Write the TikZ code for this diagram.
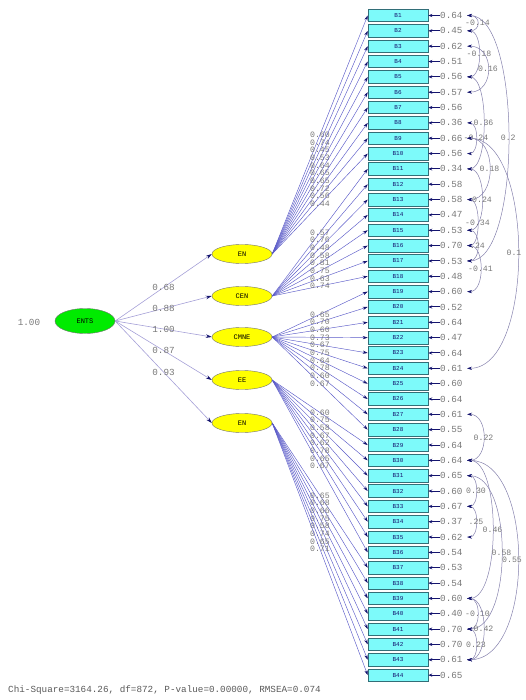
\documentclass[tikz,border=0pt]{standalone}
\usepackage{fontspec}
\setmonofont{Liberation Mono}
\usetikzlibrary{shapes.geometric,arrows.meta}
\definecolor{boxcyan}{RGB}{125,250,250}
\definecolor{boxedge}{RGB}{50,110,120}
\definecolor{pathblue}{RGB}{90,90,200}
\definecolor{softpath}{RGB}{165,160,215}
\definecolor{headnavy}{RGB}{20,20,110}
\definecolor{numgray}{RGB}{120,120,120}
\definecolor{ellyellow}{RGB}{255,255,0}
\definecolor{ellgreen}{RGB}{0,235,0}
\tikzset{
  indicator/.style={draw=boxedge, line width=0.6pt, fill=boxcyan, minimum width=60pt,
    minimum height=12.5pt, inner sep=0pt, text=headnavy,
    font=\ttfamily\fontsize{6}{6}\selectfont},
  factor/.style={ellipse, draw=black!55, fill=ellyellow, minimum width=60pt,
    minimum height=19pt, inner sep=0pt, font=\ttfamily\fontsize{7}{7}\selectfont},
  general/.style={ellipse, draw=black!55, fill=ellgreen, minimum width=60pt,
    minimum height=25pt, inner sep=0pt, font=\ttfamily\fontsize{7}{7}\selectfont},
  num/.style={font=\ttfamily\fontsize{9.3}{9.3}\selectfont, text=numgray, inner sep=0pt},
  small num/.style={font=\ttfamily\fontsize{8.2}{8.2}\selectfont, text=numgray, inner sep=0pt},
  loading/.style={draw=pathblue, line width=0.45pt,
    -{Stealth[length=5pt,width=3.2pt,color=headnavy]}},
  gamma/.style={draw=softpath, line width=0.6pt,
    -{Stealth[length=6pt,width=3.6pt,color=headnavy]}},
  errarrow/.style={draw=headnavy, line width=1pt,
    -{Stealth[length=4pt,width=3.2pt]}},
  cov/.style={draw=softpath!80!black, line width=0.5pt,
    {Stealth[length=5pt,width=3.2pt,color=headnavy]}-{Stealth[length=5pt,width=3.2pt,color=headnavy]}}
}
\begin{document}
\begin{tikzpicture}[x=1pt,y=-1pt]
\useasboundingbox (0,0) rectangle (525,700);

% observed indicators
\foreach \k in {1,...,44}{
  \node[indicator] (b\k) at (398,{15.5+(\k-1)*15.34}) {B\k};
}

% second-order factor and first-order factors
\node[general] (g) at (85,321) {ENTS};
\node[num] (gv) at (29,322) {1.00};
\node[factor] (f1) at (242,254) {EN};
\node[factor] (f2) at (242,296) {CEN};
\node[factor] (f3) at (242,337) {CMNE};
\node[factor] (f4) at (242,380) {EE};
\node[factor] (f5) at (242,423) {EN};

\foreach \f/\v in {1/0.68,2/0.88,3/1.00,4/0.87,5/0.93}{
  \draw[gamma] (g.east) -- (f\f.west) node[num,pos=0.5]{\v};
}

% factor loadings
\foreach \k/\f/\v in {1/1/0.60,2/1/0.74,3/1/0.45,4/1/0.53,5/1/0.64,6/1/0.65,7/1/0.65,
  8/1/0.72,9/1/0.56,10/1/0.44,
  11/2/0.57,12/2/0.76,13/2/0.48,14/2/0.58,15/2/0.81,16/2/0.75,17/2/0.63,18/2/0.74,
  19/3/0.65,20/3/0.70,21/3/0.60,22/3/0.73,23/3/0.67,24/3/0.75,25/3/0.64,26/3/0.78,
  27/3/0.60,28/3/0.67,
  29/4/0.60,30/4/0.75,31/4/0.58,32/4/0.67,33/4/0.62,34/4/0.78,35/4/0.65,36/4/0.67,
  37/5/0.65,38/5/0.68,39/5/0.66,40/5/0.75,41/5/0.58,42/5/0.74,43/5/0.65,44/5/0.71}{
  \draw[loading] (f\f.east) -- (b\k.west) node[small num,pos=0.5]{\v};
}

% error variances
\foreach \k/\v in {1/0.64,2/0.45,3/0.62,4/0.51,5/0.56,6/0.57,7/0.56,8/0.36,9/0.66,
  10/0.56,11/0.34,12/0.58,13/0.58,14/0.47,15/0.53,16/0.70,17/0.53,18/0.48,19/0.60,
  20/0.52,21/0.64,22/0.47,23/0.64,24/0.61,25/0.60,26/0.64,27/0.61,28/0.55,29/0.64,
  30/0.64,31/0.65,32/0.60,33/0.67,34/0.37,35/0.62,36/0.54,37/0.53,38/0.54,39/0.60,
  40/0.40,41/0.70,42/0.70,43/0.61,44/0.65}{
  \node[num,anchor=west] (t\k) at (440,{15.5+(\k-1)*15.34}) {\v};
  \coordinate (c\k) at (467,{15.5+(\k-1)*15.34});
  \draw[errarrow] (t\k.west) -- (b\k.east);
}

% correlated errors
\foreach \a/\b/\v/\d/\s in {1/2/-0.14/14/0, 2/5/-0.18/16/0, 3/6/0.16/28/0, 1/17/0.2/55/0,
  9/24/0.1/68/-4, 5/11/0.36/22/0, 8/10/-0.24/12/0, 9/13/0.18/30/0, 11/15/0.24/20/0,
  13/16/-0.34/14/0, 15/17/.24/14/0, 16/19/-0.41/18/0,
  27/30/0.22/22/0, 31/33/0.30/12/0, 33/35/.25/12/0, 30/39/0.46/34/0, 31/41/0.58/46/0,
  30/43/0.55/68/-6, 39/41/-0.10/14/0, 39/43/0.42/22/0, 41/43/0.23/12/0}{
  \draw[cov] (c\a) .. controls +(\d,0) and +(\d,0) .. (c\b)
    node[small num,pos=0.5,xshift=\s]{\v};
}

% fit statistics
\node[num,anchor=west,text=black!65] (fit) at (8,690)
  {Chi-Square=3164.26, df=872, P-value=0.00000, RMSEA=0.074};
\end{tikzpicture}
\end{document}
